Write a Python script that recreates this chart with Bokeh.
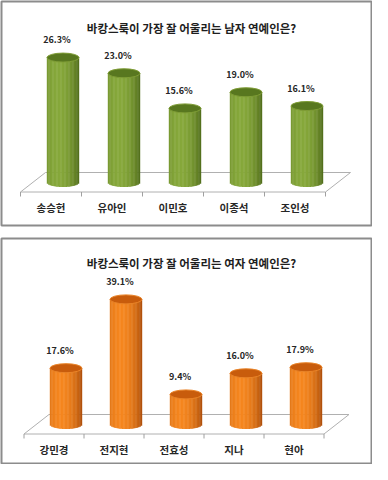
import math
from bokeh.plotting import figure
from bokeh.models import Range1d, ColumnDataSource
from bokeh.layouts import column
from bokeh.embed import file_html
from bokeh.resources import INLINE
from bokeh.core.properties import value

# ---------------- data ----------------
male_title = "바캉스룩이 가장 잘 어울리는 남자 연예인은?"
male_names = ["송승헌", "유아인", "이민호", "이종석", "조인성"]
male_values = [26.3, 23.0, 15.6, 19.0, 16.1]

female_title = "바캉스룩이 가장 잘 어울리는 여자 연예인은?"
female_names = ["강민경", "전지현", "전효성", "지나", "현아"]
female_values = [17.6, 39.1, 9.4, 16.0, 17.9]

FONT = "Noto Sans CJK KR"


def hex2rgb(h):
    h = h.lstrip("#")
    return [int(h[i:i + 2], 16) for i in (0, 2, 4)]


def mix(c1, c2, f):
    a, b = hex2rgb(c1), hex2rgb(c2)
    return "#%02x%02x%02x" % tuple(int(round(a[i] + (b[i] - a[i]) * f)) for i in range(3))


def make_panel(names, vals, title, edge_col, mid_col, top_fill, top_line,
               frame, cx0, unit, base, pp, height, mb_top, mb_bottom):
    fl, fr, ft, fb = frame
    x0 = (fl - cx0) / unit
    x1 = (fr - cx0) / unit
    y1 = (base - ft) / pp
    y0 = -(fb - base) / pp
    p = figure(width=372, height=height, x_range=Range1d(x0, x1), y_range=Range1d(y0, y1),
               output_backend="svg", toolbar_location=None,
               x_axis_location=None, y_axis_location=None,
               min_border_left=1, min_border_right=1,
               min_border_top=mb_top, min_border_bottom=mb_bottom)
    p.grid.visible = False
    p.outline_line_color = "#8c8c8c"
    p.outline_line_width = 2
    p.background_fill_color = "white"
    p.border_fill_color = "white"

    n = len(names)
    idx = list(range(n))
    shift = 25.0 / unit
    fdy = 9.5 / pp
    bdy = 10.0 / pp
    # floor
    p.line([-0.5, n - 0.5], [-fdy, -fdy], line_color="#b0b0b0", line_width=1)
    p.line([-0.5 + shift, n - 0.5 + shift], [bdy, bdy], line_color="#b0b0b0", line_width=1)
    p.line([-0.5, -0.5 + shift], [-fdy, bdy], line_color="#b0b0b0", line_width=1)
    p.line([n - 0.5, n - 0.5 + shift], [-fdy, bdy], line_color="#b0b0b0", line_width=1)
    tx = [i - 0.5 for i in range(n + 1)]
    p.segment(x0=tx, y0=[-fdy] * (n + 1), x1=tx, y1=[-fdy - 4.5 / pp] * (n + 1),
              line_color="#a0a0a0", line_width=1)

    # cylinders
    off = 12.0 / unit
    w = 32.0 / unit
    eh = 4.5 / pp
    N = 24
    sx, sb, st, sc = [], [], [], []
    for i, v in enumerate(vals):
        for k in range(N):
            t = -1 + (2 * k + 1) / N
            f = math.cos(math.pi / 2 * (t + 0.3) / 1.3) ** 0.7
            sx.append(i + off + t * w / 2)
            sb.append(-eh * math.sqrt(max(0.0, 1 - t * t)))
            st.append(v)
            sc.append(mix(edge_col, mid_col, f))
    src = ColumnDataSource(dict(x=sx, bottom=sb, top=st, color=sc))
    p.vbar(x="x", bottom="bottom", top="top", width=w / N * 1.3, source=src,
           fill_color="color", line_color=None)
    p.ellipse(x=[i + off for i in idx], y=vals, width=w, height=2 * eh,
              fill_color=top_fill, line_color=top_line, line_width=1)

    # value labels
    p.text(x=[i + 6.0 / unit for i in idx], y=vals, text=["%.1f%%" % v for v in vals],
           text_align="center", text_baseline="middle", y_offset=-18,
           text_font=value(FONT), text_font_style="bold", text_font_size="9px",
           text_color="#262626")
    # category labels
    p.text(x=idx, y=[0] * n, text=names, text_align="center", text_baseline="middle",
           y_offset=25, text_font=value(FONT), text_font_style="bold",
           text_font_size="10.5px", text_color="#262626")
    # title
    p.text(x=[(199 - cx0) / unit], y=[y1], text=[title], text_align="center",
           text_baseline="middle", y_offset=(26 if mb_top < 3 else 24),
           text_font=value(FONT), text_font_style="bold", text_font_size="11.5px",
           text_color="#1e1e1e")
    return p


p1 = make_panel(male_names, male_values, male_title,
                "#4c6818", "#86a83a", "#58771f", "#7f9d36",
                frame=(9, 379, 9, 233), cx0=58.5, unit=61.0, base=190.0, pp=4.75,
                height=232, mb_top=1, mb_bottom=7)
p2 = make_panel(female_names, female_values, female_title,
                "#a84a08", "#f5861e", "#c85c0c", "#ea8428",
                frame=(9, 379, 246, 471), cx0=61.5, unit=60.0, base=432.0, pp=3.2,
                height=232, mb_top=6, mb_bottom=1)

layout = column(p1, p2, spacing=0)
open("out.html", "w").write(file_html(layout, INLINE))
